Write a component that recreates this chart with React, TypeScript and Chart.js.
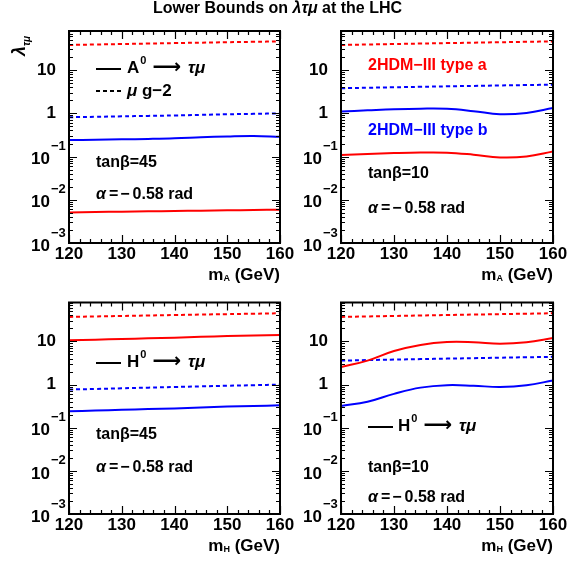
import React, { useEffect, useRef } from 'react';
import { Chart, registerables } from 'chart.js';

Chart.register(...registerables);

const FONT = '"Liberation Sans", Arial, Helvetica, sans-serif';
const RED = '#ff0000';
const BLUE = '#0000ff';
const W = 585;
const H = 563;

// ---------- data ----------
const massGeV = [120, 125, 130, 135, 140, 145, 150, 155, 160];
const xMin = 120;
const xMax = 160;
const xTickStep = 10;
const yMin = 1e-3;
const yMax = 80;
const yTickExponents = [1, 0, -1, -2, -3];

// A0 -> tau mu, tan(beta) = 45
const a45TypeAGm2 = [38, 39, 40, 41, 42, 43, 44, 45, 46];
const a45TypeBGm2 = [0.81, 0.83, 0.85, 0.87, 0.89, 0.92, 0.95, 0.97, 1.0];
const a45TypeBDecay = [0.24, 0.245, 0.25, 0.255, 0.263, 0.278, 0.292, 0.3, 0.285];
const a45TypeADecay = [0.0051, 0.0052, 0.0053, 0.0054, 0.0055, 0.0056, 0.0057, 0.0058, 0.0059];

// A0 -> tau mu, tan(beta) = 10
const a10TypeAGm2 = [38, 39, 40, 41, 42, 43, 44, 45, 46];
const a10TypeBGm2 = [3.8, 3.9, 4.0, 4.1, 4.2, 4.3, 4.4, 4.5, 4.6];
const a10TypeBDecay = [1.1, 1.17, 1.24, 1.28, 1.27, 1.12, 0.95, 1.02, 1.33];
const a10TypeADecay = [0.108, 0.114, 0.12, 0.124, 0.123, 0.11, 0.095, 0.1, 0.131];

// H0 -> tau mu, tan(beta) = 45
const h45TypeAGm2 = [37, 38, 39, 40, 41, 42, 43, 44, 45];
const h45TypeADecay = [10.6, 11, 11.4, 11.8, 12.2, 12.8, 13.4, 13.8, 14.2];
const h45TypeBGm2 = [0.77, 0.79, 0.82, 0.85, 0.88, 0.91, 0.94, 0.97, 1.0];
const h45TypeBDecay = [0.24, 0.25, 0.26, 0.27, 0.28, 0.295, 0.31, 0.32, 0.33];

// H0 -> tau mu, tan(beta) = 10
const h10TypeAGm2 = [37, 38, 39, 40, 41, 42, 43, 44, 45];
const h10TypeADecay = [2.55, 3.6, 6.0, 8.3, 9.7, 9.6, 8.9, 9.6, 12];
const h10TypeBGm2 = [3.6, 3.7, 3.8, 3.9, 4.0, 4.1, 4.2, 4.3, 4.4];
const h10TypeBDecay = [0.32, 0.4, 0.61, 0.85, 0.97, 0.94, 0.88, 0.96, 1.25];

// ---------- helpers ----------
type Run = { t: string; size: number; dy?: number; dx?: number; style?: string; family?: string };

const fontOf = (r: Run) => `${r.style ? r.style + ' ' : ''}bold ${r.size}px ${r.family || FONT}`;

function drawRuns(ctx: CanvasRenderingContext2D, x: number, y: number, runs: Run[], color = '#000', align: 'left' | 'right' | 'center' = 'left') {
  ctx.textBaseline = 'middle';
  ctx.textAlign = 'left';
  ctx.fillStyle = color;
  let w = 0;
  for (const r of runs) {
    ctx.font = fontOf(r);
    w += (r.dx || 0) + ctx.measureText(r.t).width;
  }
  let cx = align === 'right' ? x - w : align === 'center' ? x - w / 2 : x;
  for (const r of runs) {
    ctx.font = fontOf(r);
    cx += r.dx || 0;
    ctx.fillText(r.t, cx, y + (r.dy || 0));
    cx += ctx.measureText(r.t).width;
  }
}

function sampleLine(ctx: CanvasRenderingContext2D, x1: number, x2: number, y: number, dashed: boolean) {
  ctx.save();
  ctx.strokeStyle = '#000';
  ctx.lineWidth = 2;
  ctx.setLineDash(dashed ? [4, 3] : []);
  ctx.beginPath();
  ctx.moveTo(x1, y);
  ctx.lineTo(x2, y);
  ctx.stroke();
  ctx.restore();
}

const pts = (vals: number[]) => massGeV.map((m, i) => ({ x: m, y: vals[i] }));

const ds = (vals: number[], color: string, dashed: boolean) => ({
  data: pts(vals),
  borderColor: color,
  borderWidth: 2,
  borderDash: dashed ? [4, 3] : [],
  pointRadius: 0,
  fill: false,
  tension: 0.4,
});

const decayArrow = (letter: string): Run[] => [
  { t: letter, size: 17 },
  { t: '0', size: 11, dy: -7, dx: 1 },
  { t: '⟶', size: 20, dx: 6, dy: 0, family: '"DejaVu Sans", sans-serif' },
  { t: 'τμ', size: 17, dx: 7, style: 'italic' },
];

const alphaRuns: Run[] = [
  { t: 'α', size: 16, style: 'italic' },
  { t: '=', size: 16, dx: 3 },
  { t: '−', size: 16, dx: 2 },
  { t: '0.58 rad', size: 16, dx: 3 },
];

type PanelCfg = {
  area: { l: number; r: number; t: number; b: number };
  sub: string;
  datasets: any[];
  decorate: (ctx: CanvasRenderingContext2D) => void;
  global?: boolean;
};

const panels: PanelCfg[] = [
  {
    area: { l: 69, r: 280, t: 31, b: 243 },
    sub: 'A',
    global: true,
    datasets: [
      ds(a45TypeAGm2, RED, true),
      ds(a45TypeBGm2, BLUE, true),
      ds(a45TypeBDecay, BLUE, false),
      ds(a45TypeADecay, RED, false),
    ],
    decorate: (ctx) => {
      sampleLine(ctx, 96, 121, 69, false);
      drawRuns(ctx, 127, 68, decayArrow('A'));
      sampleLine(ctx, 96, 121, 91, true);
      drawRuns(ctx, 127, 91, [{ t: 'μ', size: 17, style: 'italic' }, { t: ' g−2', size: 17 }]);
      drawRuns(ctx, 96, 163, [{ t: 'tanβ=45', size: 16 }]);
      drawRuns(ctx, 96, 195, alphaRuns);
    },
  },
  {
    area: { l: 341, r: 553, t: 31, b: 243 },
    sub: 'A',
    datasets: [
      ds(a10TypeAGm2, RED, true),
      ds(a10TypeBGm2, BLUE, true),
      ds(a10TypeBDecay, BLUE, false),
      ds(a10TypeADecay, RED, false),
    ],
    decorate: (ctx) => {
      drawRuns(ctx, 368, 66, [{ t: '2HDM−III type a', size: 16 }], RED);
      drawRuns(ctx, 368, 131, [{ t: '2HDM−III type b', size: 16 }], BLUE);
      drawRuns(ctx, 368, 174, [{ t: 'tanβ=10', size: 16 }]);
      drawRuns(ctx, 368, 209, alphaRuns);
    },
  },
  {
    area: { l: 69, r: 280, t: 302.5, b: 514 },
    sub: 'H',
    datasets: [
      ds(h45TypeAGm2, RED, true),
      ds(h45TypeADecay, RED, false),
      ds(h45TypeBGm2, BLUE, true),
      ds(h45TypeBDecay, BLUE, false),
    ],
    decorate: (ctx) => {
      sampleLine(ctx, 96, 121, 363, false);
      drawRuns(ctx, 127, 362, decayArrow('H'));
      drawRuns(ctx, 96, 435, [{ t: 'tanβ=45', size: 16 }]);
      drawRuns(ctx, 96, 468, alphaRuns);
    },
  },
  {
    area: { l: 341, r: 553, t: 302.5, b: 514 },
    sub: 'H',
    datasets: [
      ds(h10TypeAGm2, RED, true),
      ds(h10TypeADecay, RED, false),
      ds(h10TypeBGm2, BLUE, true),
      ds(h10TypeBDecay, BLUE, false),
    ],
    decorate: (ctx) => {
      sampleLine(ctx, 368, 393, 427, false);
      drawRuns(ctx, 398, 426, decayArrow('H'));
      drawRuns(ctx, 368, 468, [{ t: 'tanβ=10', size: 16 }]);
      drawRuns(ctx, 368, 498, alphaRuns);
    },
  },
];

const X_AXIS_H = 20;

function makePlugin(p: PanelCfg, idx: number) {
  return {
    id: 'rootFrame' + idx,
    afterDraw(chart: any) {
      const ctx: CanvasRenderingContext2D = chart.ctx;
      const a = chart.chartArea;
      const xs = chart.scales.x;
      const ys = chart.scales.y;
      ctx.save();
      ctx.strokeStyle = '#000';
      ctx.lineWidth = 1.2;
      ctx.beginPath();
      // y ticks (log)
      for (let e = -3; e <= 2; e++) {
        for (let k = 1; k <= 9; k++) {
          const v = k * Math.pow(10, e);
          if (v < yMin * 0.999 || v > yMax) continue;
          const py = Math.round(ys.getPixelForValue(v)) + 0.5;
          const len = k === 1 ? 8 : 4;
          ctx.moveTo(a.left, py);
          ctx.lineTo(a.left + len, py);
          ctx.moveTo(a.right, py);
          ctx.lineTo(a.right - len, py);
        }
      }
      // x ticks
      for (let m = xMin; m <= xMax; m += 2) {
        const px = Math.round(xs.getPixelForValue(m)) + 0.5;
        const len = m % 10 === 0 ? 8 : 4;
        ctx.moveTo(px, a.bottom);
        ctx.lineTo(px, a.bottom - len);
        ctx.moveTo(px, a.top);
        ctx.lineTo(px, a.top + len);
      }
      ctx.stroke();
      // frame
      ctx.lineWidth = 2;
      ctx.strokeRect(a.left, a.top, a.right - a.left, a.bottom - a.top);

      // y tick labels
      for (const e of yTickExponents) {
        const py = ys.getPixelForValue(Math.pow(10, e));
        if (e === 1) drawRuns(ctx, a.left - 13, py, [{ t: '10', size: 17 }], '#000', 'right');
        else if (e === 0) drawRuns(ctx, a.left - 13, py, [{ t: '1', size: 17 }], '#000', 'right');
        else {
          drawRuns(ctx, a.left - 19, py + 3, [{ t: '10', size: 17 }], '#000', 'right');
          drawRuns(ctx, a.left - 18, py - 10, [{ t: '−' + -e, size: 13 }], '#000', 'left');
        }
      }

      // x axis title
      drawRuns(
        ctx,
        a.right,
        a.bottom + 32,
        [
          { t: 'm', size: 17 },
          { t: p.sub, size: 9, dy: 4 },
          { t: ' (GeV)', size: 17 },
        ],
        '#000',
        'right'
      );

      p.decorate(ctx);

      if (p.global) {
        drawRuns(ctx, 277.5, 9, [
          { t: 'Lower Bounds on ', size: 16 },
          { t: 'λτμ', size: 16, style: 'italic' },
          { t: ' at the LHC', size: 16 },
        ], '#000', 'center');
        // y axis title (rotated)
        ctx.save();
        ctx.translate(20, 56);
        ctx.rotate(-Math.PI / 2);
        drawRuns(ctx, 0, 0, [
          { t: 'λ', size: 18, style: 'italic' },
          { t: 'τμ', size: 10, dy: 7, dx: 0, style: 'italic' },
        ]);
        ctx.restore();
      }
      ctx.restore();
    },
  };
}

export default function App() {
  const refs = [useRef<HTMLCanvasElement>(null), useRef<HTMLCanvasElement>(null), useRef<HTMLCanvasElement>(null), useRef<HTMLCanvasElement>(null)];

  useEffect(() => {
    const charts: Chart[] = [];
    panels.forEach((p, i) => {
      const canvas = refs[i].current;
      if (!canvas) return;
      const chart = new Chart(canvas, {
        type: 'line',
        data: { datasets: p.datasets },
        options: {
          animation: false,
          responsive: false,
          events: [],
          layout: {
            padding: {
              left: p.area.l,
              top: p.area.t,
              right: W - p.area.r,
              bottom: H - p.area.b - X_AXIS_H,
            },
          },
          plugins: {
            legend: { display: false },
            tooltip: { enabled: false },
            title: { display: false },
          },
          scales: {
            x: {
              type: 'linear',
              min: xMin,
              max: xMax,
              position: 'bottom',
              grid: { display: false, drawTicks: false },
              border: { display: false },
              ticks: {
                stepSize: xTickStep,
                color: '#000',
                padding: 1,
                maxRotation: 0,
                autoSkip: false,
                font: { family: FONT, size: 17, weight: 'bold' },
              },
              afterFit: (s: any) => {
                s.height = X_AXIS_H;
              },
            },
            y: {
              type: 'logarithmic',
              min: yMin,
              max: yMax,
              display: false,
            },
          },
        } as any,
        plugins: [makePlugin(p, i)],
      });
      charts.push(chart);
    });
    return () => charts.forEach((c) => c.destroy());
  }, []);

  return (
    <div style={{ position: 'fixed', left: 0, top: 0, width: W, height: H, background: '#fff', overflow: 'hidden' }}>
      {refs.map((r, i) => (
        <canvas
          key={i}
          ref={r}
          width={W}
          height={H}
          style={{ position: 'absolute', left: 0, top: 0, width: W, height: H, pointerEvents: 'none' }}
        />
      ))}
    </div>
  );
}
